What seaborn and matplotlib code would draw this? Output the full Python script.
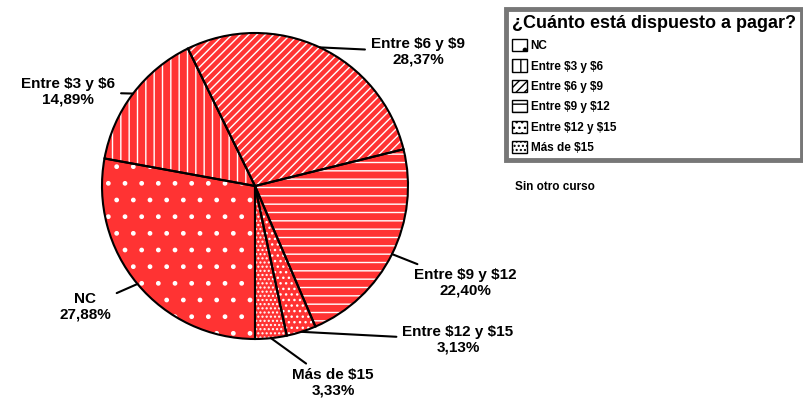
import matplotlib
matplotlib.use("Agg")
import matplotlib.pyplot as plt
import seaborn as sns
from matplotlib.patches import Patch
import numpy as np

# Data
categories = ["NC", "Entre $3 y $6", "Entre $6 y $9", "Entre $9 y $12",
              "Entre $12 y $15", "Más de $15"]
percentages = [27.88, 14.89, 28.37, 22.40, 3.13, 3.33]
hatches = [".", "||", "////", "--", "...", "...."]

legend_title = "¿Cuánto está dispuesto a pagar?"
note = "Sin otro curso"

sns.set_theme(style="white")
plt.rcParams["font.family"] = ["Liberation Sans", "DejaVu Sans"]
plt.rcParams["hatch.linewidth"] = 1.0
plt.rcParams["text.parse_math"] = False
plt.rcParams["text.color"] = "black"

W, H = 804, 405
fig = plt.figure(figsize=(W / 100, H / 100), dpi=100)

# pie axes: center (255,186) px, radius ~153 px
cx, cy, r = 255, 186, 153
ax = fig.add_axes([(cx - r) / W, (H - cy - r) / H, 2 * r / W, 2 * r / H])

red = "#ff3333"
# first pass: red wedges with white hatching
wedges, _ = ax.pie(percentages, startangle=270, counterclock=False,
                   colors=[red] * len(percentages),
                   wedgeprops=dict(edgecolor="white", linewidth=0))
for w, h in zip(wedges, hatches):
    w.set_hatch(h)
# second pass: black outlines
ax.pie(percentages, startangle=270, counterclock=False,
       colors=["none"] * len(percentages),
       wedgeprops=dict(edgecolor="black", linewidth=1.5))
ax.set_xlim(-1, 1)
ax.set_ylim(-1, 1)
ax.set_aspect("equal")
ax.axis("off")

# label positions in pixels (text center)
label_px = [(85, 307), (68, 92), (418, 52), (465, 283), (458, 340), (333, 383)]
for w, cat, pct, (lx, ly) in zip(wedges, categories, percentages, label_px):
    ang = np.deg2rad((w.theta1 + w.theta2) / 2)
    xy = (np.cos(ang), np.sin(ang))
    txt = f"{cat}\n{pct:.2f}%".replace(".", ",")
    ax.annotate(txt, xy=xy, xycoords="data",
                xytext=(lx / W, 1 - ly / H), textcoords="figure fraction",
                ha="center", va="center", fontsize=11, fontweight="bold",
                linespacing=1.1, color="black",
                arrowprops=dict(arrowstyle="-", color="black", lw=1.5,
                                shrinkA=2, shrinkB=0),
                annotation_clip=False)

# legend
handles = [Patch(facecolor="white", edgecolor="black", hatch=h, label=c)
           for c, h in zip(categories, hatches)]
leg = fig.legend(handles=handles, title=legend_title,
                 loc="upper left", bbox_to_anchor=(500 / W, 1 - 3 / H),
                 bbox_transform=fig.transFigure,
                 fontsize=8.5, title_fontproperties={"weight": "bold", "size": 13},
                 frameon=True, fancybox=False,
                 handlelength=1.3, handleheight=1.2, handletextpad=0.3,
                 labelspacing=0.62, borderpad=0.5, alignment="left")
for t in leg.get_texts():
    t.set_fontweight("bold")
    t.set_color("black")
leg.get_title().set_color("black")
frame = leg.get_frame()
frame.set_edgecolor("#555555")
frame.set_linewidth(3.5)

fig.text(515 / W, 1 - 187 / H, note, fontsize=8.5, fontweight="bold",
         ha="left", va="center", color="black")

fig.savefig("out.png", dpi=100)
